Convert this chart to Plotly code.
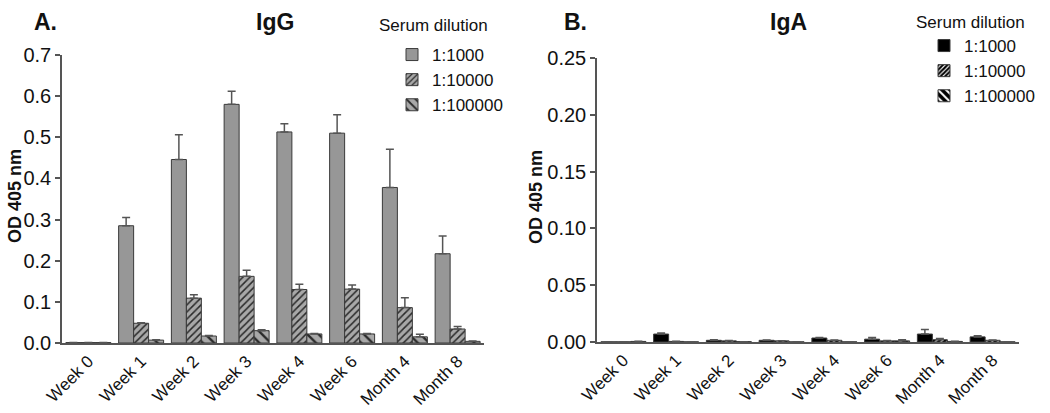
import plotly.graph_objects as go

categories = ["Week 0", "Week 1", "Week 2", "Week 3", "Week 4", "Week 6", "Month 4", "Month 8"]
dilutions = ["1:1000", "1:10000", "1:100000"]

# Panel A: IgG
igg_1000 = [0.001, 0.285, 0.446, 0.580, 0.513, 0.510, 0.378, 0.217]
igg_1000_err = [0.0, 0.020, 0.060, 0.032, 0.020, 0.045, 0.093, 0.043]
igg_10000 = [0.001, 0.048, 0.109, 0.162, 0.130, 0.131, 0.086, 0.034]
igg_10000_err = [0.0, 0.001, 0.008, 0.015, 0.013, 0.010, 0.024, 0.006]
igg_100000 = [0.001, 0.007, 0.017, 0.030, 0.022, 0.022, 0.015, 0.004]
igg_100000_err = [0.0, 0.001, 0.001, 0.002, 0.001, 0.001, 0.006, 0.001]

# Panel B: IgA
iga_1000 = [0.0001, 0.0070, 0.0015, 0.0015, 0.0035, 0.0025, 0.0070, 0.0045]
iga_1000_err = [0.0, 0.0010, 0.0005, 0.0002, 0.0005, 0.0015, 0.0040, 0.0010]
iga_10000 = [0.0001, 0.0005, 0.0010, 0.0010, 0.0015, 0.0010, 0.0020, 0.0015]
iga_10000_err = [0.0, 0.0002, 0.0003, 0.0002, 0.0003, 0.0003, 0.0010, 0.0003]
iga_100000 = [0.0005, 0.0001, 0.0003, 0.0001, 0.0001, 0.0010, 0.0005, 0.0001]
iga_100000_err = [0.0002, 0.0, 0.0, 0.0, 0.0, 0.0010, 0.0002, 0.0]

W, H = 1050, 413
AXC = "#555555"
EDGE = "#3a3a3a"
FONT = "Liberation Sans, Arial, sans-serif"

fig = go.Figure()

def add_bar(vals, errs, name, pattern, color, xa, ya, legend):
    fig.add_trace(go.Bar(
        x=categories, y=vals, name=name,
        marker=dict(color=color, line=dict(color=EDGE, width=1), pattern=pattern),
        error_y=dict(type="data", symmetric=False, array=errs,
                     arrayminus=[0] * len(errs), color=AXC, thickness=1.5, width=4),
        xaxis=xa, yaxis=ya, legend=legend,
    ))

GA = "#979797"
add_bar(igg_1000, igg_1000_err, dilutions[0], dict(shape=""), GA, "x", "y", "legend")
add_bar(igg_10000, igg_10000_err, dilutions[1],
        dict(shape="/", bgcolor="#a8a8a8", fgcolor="#2a2a2a", size=5, solidity=0.3, fillmode="replace"),
        "#a8a8a8", "x", "y", "legend")
add_bar(igg_100000, igg_100000_err, dilutions[2],
        dict(shape="\\", bgcolor="#a8a8a8", fgcolor="#2a2a2a", size=8, solidity=0.3, fillmode="replace"),
        "#a8a8a8", "x", "y", "legend")

add_bar(iga_1000, iga_1000_err, dilutions[0], dict(shape=""), "#000000", "x2", "y2", "legend2")
add_bar(iga_10000, iga_10000_err, dilutions[1],
        dict(shape="/", bgcolor="#000000", fgcolor="#ffffff", size=4, solidity=0.35, fillmode="replace"),
        "#000000", "x2", "y2", "legend2")
add_bar(iga_100000, iga_100000_err, dilutions[2],
        dict(shape="\\", bgcolor="#000000", fgcolor="#ffffff", size=7, solidity=0.35, fillmode="replace"),
        "#000000", "x2", "y2", "legend2")

def px_x(p):
    return p / W

def px_y(p):
    return 1 - p / H

xcommon = dict(type="category", showline=True, linecolor=AXC, linewidth=1.5, ticks="",
               tickangle=-45, tickfont=dict(size=17, color="#111"), showgrid=False,
               zeroline=False, automargin=False)
ycommon = dict(showline=True, linecolor=AXC, linewidth=1.5, ticks="outside", ticklen=5,
               tickwidth=1.5, tickcolor=AXC, tickfont=dict(size=20, color="#111"),
               showgrid=False, zeroline=False, automargin=False)

fig.update_layout(
    width=W, height=H,
    margin=dict(l=0, r=0, t=0, b=0),
    paper_bgcolor="white", plot_bgcolor="white",
    font=dict(family=FONT, color="#111"),
    barmode="group", bargap=0.147, bargroupgap=0.0,
    xaxis=dict(domain=[px_x(62), px_x(484)], anchor="y", **xcommon),
    yaxis=dict(domain=[px_y(343), px_y(55)], anchor="x", range=[0, 0.7], dtick=0.1,
               tickformat=".1f", **ycommon),
    xaxis2=dict(domain=[px_x(597), px_x(1019)], anchor="y2", **xcommon),
    yaxis2=dict(domain=[px_y(342), px_y(58)], anchor="x2", range=[0, 0.25], dtick=0.05,
                tickformat=".2f", **ycommon),
    legend=dict(x=px_x(392), y=px_y(37), xanchor="left", yanchor="top",
                font=dict(size=17), bgcolor="rgba(0,0,0,0)", tracegroupgap=0),
    legend2=dict(x=px_x(924), y=px_y(28), xanchor="left", yanchor="top",
                 font=dict(size=17), bgcolor="rgba(0,0,0,0)", tracegroupgap=0),
    showlegend=True,
)

annotations = [
    dict(text="<b>A.</b>", x=px_x(45), y=px_y(22)),
    dict(text="<b>IgG</b>", x=px_x(275), y=px_y(22)),
    dict(text="Serum dilution", x=px_x(433), y=px_y(26), size=17),
    dict(text="<b>B.</b>", x=px_x(575), y=px_y(22)),
    dict(text="<b>IgA</b>", x=px_x(788), y=px_y(22)),
    dict(text="Serum dilution", x=px_x(970), y=px_y(22), size=17),
    dict(text="<b>OD 405 nm</b>", x=px_x(15), y=px_y(196), size=18, angle=-90),
    dict(text="<b>OD 405 nm</b>", x=px_x(536), y=px_y(197), size=18, angle=-90),
]
for a in annotations:
    fig.add_annotation(text=a["text"], x=a["x"], y=a["y"], xref="paper", yref="paper",
                       xanchor="center", yanchor="middle", showarrow=False,
                       textangle=a.get("angle", 0),
                       font=dict(size=a.get("size", 23), color="#111", family=FONT))

fig.write_html("out.html", config={"displayModeBar": False},
               post_script="document.body.style.margin='0';document.body.style.overflow='hidden';")
